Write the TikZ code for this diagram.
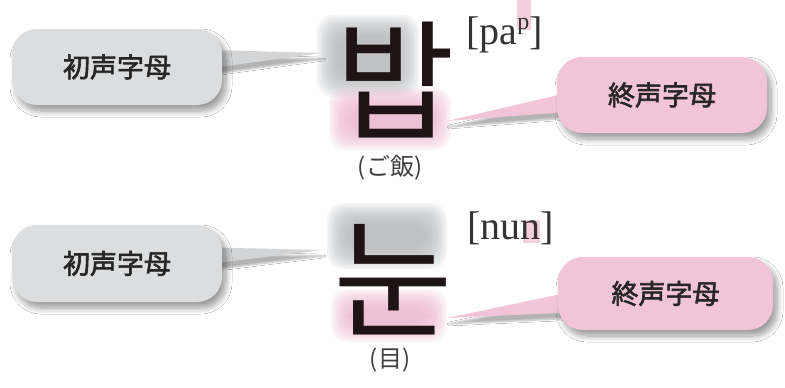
\documentclass[tikz,border=0pt]{standalone}
\usepackage{fontspec}
\setmainfont{Liberation Serif}
\newfontfamily\jpfont[CharacterWidth=Proportional]{Noto Sans CJK JP}
\newfontfamily\jplabel[FakeBold=2.2]{Noto Sans CJK JP}
\newfontfamily\krfont{Noto Sans CJK KR}
\usetikzlibrary{shadows,shadows.blur,calc}
\definecolor{bubgray}{HTML}{DCDDDE}
\definecolor{armgray}{HTML}{D3D4D6}
\definecolor{bubpink}{HTML}{F2C4D7}
\definecolor{glowgray}{HTML}{B3B4B6}
\definecolor{glowpink}{HTML}{EDB3CC}
\definecolor{inkc}{HTML}{1E1416}
\definecolor{hilite}{HTML}{F6CFDF}
\tikzset{
  bubble/.style={rounded corners=25pt, minimum width=210pt, minimum height=76pt,
    inner sep=0pt, font=\jplabel\fontsize{27}{27}\selectfont, text=black!85,
    blur shadow={shadow xshift=4pt, shadow yshift=-6pt, shadow blur steps=10,
      shadow blur extra rounding=4pt, shadow blur radius=6pt, shadow opacity=40}},
  graybub/.style={bubble, fill=bubgray},
  pinkbub/.style={bubble, fill=bubpink},
  grayarm/.style={fill=armgray, blur shadow={shadow xshift=2pt, shadow yshift=-6pt, shadow blur steps=6, shadow opacity=30}},
  pinkarm/.style={fill=bubpink, blur shadow={shadow xshift=2pt, shadow yshift=-6pt, shadow blur steps=6, shadow opacity=30}},
  hangul/.style={font=\krfont\fontsize{130}{130}\selectfont, text=inkc, inner sep=0pt},
  gloss/.style={font=\jpfont\fontsize{24}{24}\selectfont, text=black!75, inner sep=0pt},
  ipa/.style={font=\fontsize{40}{40}\selectfont, text=black!80, inner sep=0pt, anchor=base west},
}
\newcommand\softglow[5]{%
  \foreach \k in {0,...,11}{%
    \pgfmathsetmacro\dd{-11+1.9*\k}%
    \fill[#1, opacity=0.12, rounded corners=16pt]
      ({#2+\dd},{#3+\dd}) rectangle ({#4-\dd},{#5-\dd});
  }}
\begin{document}
\begin{tikzpicture}[x=1pt, y=-1pt]
\useasboundingbox (0,0) rectangle (785,388);
\fill[white] (0,0) rectangle (785,388);

% glows behind the jamo
\softglow{glowgray}{328}{26}{408}{86}
\softglow{glowpink}{340}{99}{440}{139}
\softglow{glowgray}{338}{214}{436}{258}
\softglow{glowpink}{342}{300}{436}{331}

% highlights behind the final sounds
\fill[hilite] (517,0) rectangle (531,30);
\fill[hilite] (523,220) rectangle (540,243);

% tips of the arms
\coordinate (t1) at (322,53);
\coordinate (t2) at (447,121);
\coordinate (t3) at (322,250);
\coordinate (t4) at (447,318);

\path (117,67) coordinate (c1) (662,95) coordinate (c2)
      (117,263.5) coordinate (c3) (665.5,293.5) coordinate (c4);

% arms
\fill[grayarm] ($(c1)+(95,-17)$) -- (t1) -- ($(c1)+(95,1)$) -- cycle;
\fill[pinkarm] ($(c2)+(-95,-2)$) -- (t2) -- ($(c2)+(-95,17)$) -- cycle;
\fill[grayarm] ($(c3)+(95,-16)$) -- (t3) -- ($(c3)+(95,0)$) -- cycle;
\fill[pinkarm] ($(c4)+(-97,-1)$) -- (t4) -- ($(c4)+(-97,19)$) -- cycle;

\node[graybub] (g1) at (c1) {初声字母};
\node[pinkbub] (p1) at (c2) {終声字母};
\node[graybub, minimum height=77pt] (g2) at (c3) {初声字母};
\node[pinkbub, minimum width=215pt, minimum height=73pt] (p2) at (c4) {終声字母};

% syllables
\node[hangul] (h1) at (395,80) {밥};
\node[hangul] (h2) at (393,280) {눈};

% transcriptions
\node[ipa] (ip1) at (466,44) {[pa\raisebox{14pt}{\fontsize{24}{24}\selectfont p}]};
\node[ipa] (ip2) at (467,239) {[nun]};

% glosses
\node[gloss] (gl1) at (390,168) {（ご飯）};
\node[gloss] (gl2) at (390,360) {（目）};
\end{tikzpicture}
\end{document}
